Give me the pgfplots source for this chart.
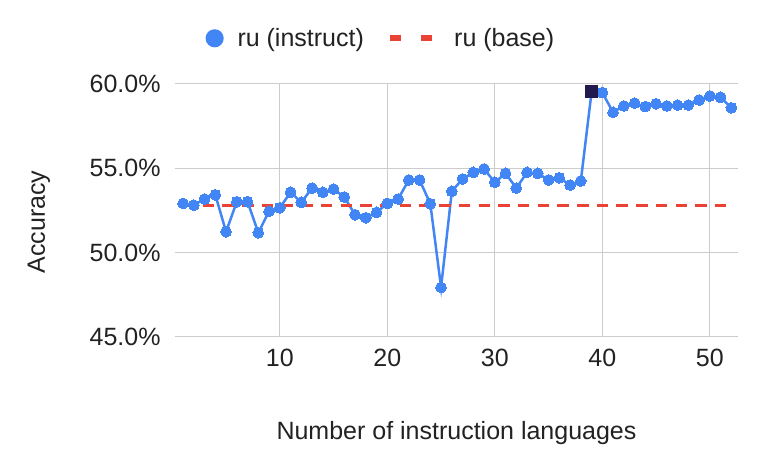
\documentclass[border=0pt]{standalone}
\usepackage{pgfplots}
\pgfplotsset{compat=1.18}
\usepackage{fontspec}
\setmainfont{Liberation Sans}
\definecolor{gblue}{HTML}{4285F4}
\definecolor{gred}{HTML}{EA4335}
\definecolor{gdark}{HTML}{211A4F}
\definecolor{ggrid}{HTML}{CCCCCC}
\definecolor{gtext}{HTML}{222222}
\begin{document}
\begin{tikzpicture}
\begin{axis}[
  name=ax,
  scale only axis,
  width=563pt, height=253pt,
  xmin=0.25, xmax=52.62,
  ymin=45, ymax=60,
  xtick={10,20,30,40,50},
  xticklabels={10,20,30,40,50},
  ytick={45,50,55,60},
  yticklabels={45.0\%,50.0\%,55.0\%,60.0\%},
  /pgf/number format/assume math mode=true,
  grid=major,
  grid style={ggrid, line width=1pt},
  axis line style={draw=none},
  major tick length=0pt,
  font=\fontsize{25}{30}\selectfont,
  every tick label/.append style={text=gtext},
  xticklabel style={anchor=center, inner sep=0pt, yshift=-21pt},
  yticklabel style={anchor=east, inner sep=0pt, xshift=-14.3pt},
  xlabel={Number of instruction languages},
  ylabel={Accuracy},
  every axis x label/.style={at={(axis description cs:0.5,0)}, anchor=center, yshift=-96pt, text=gtext, font=\fontsize{25}{30}\selectfont},
  every axis y label/.style={at={(axis description cs:-0.2416,0.4545)}, anchor=center, rotate=90, text=gtext, font=\fontsize{25}{30}\selectfont},
  legend style={at={(axis description cs:0.364,1.1806)}, anchor=center, draw=none, fill=none,
    legend columns=2, font=\fontsize{25}{30}\selectfont, text=gtext,
    nodes={inner sep=0pt},
    /tikz/every odd column/.append style={column sep=12pt},
    /tikz/every even column/.append style={column sep=23pt}, inner sep=0pt},
  clip=false,
]
\addplot[gblue, line width=2.5pt, mark=*, mark size=5.4pt, mark options={solid, fill=gblue, draw=gblue, line width=0pt},
  legend image code/.code={\fill[gblue] (0pt,0pt) circle (7.8pt); \path (9.6pt,0pt);}]
coordinates {
(1,52.92) (2,52.82) (3,53.18) (4,53.43) (5,51.24) (6,53.02) (7,53.02) (8,51.18)
(9,52.45) (10,52.66) (11,53.58) (12,52.98) (13,53.83) (14,53.58) (15,53.77) (16,53.30)
(17,52.25) (18,52.07) (19,52.39) (20,52.92) (21,53.18) (22,54.31) (23,54.31) (24,52.90)
(25,47.94) (26,53.64) (27,54.37) (28,54.76) (29,54.96) (30,54.17) (31,54.70) (32,53.83)
(33,54.76) (34,54.70) (35,54.31) (36,54.44) (37,54.01) (38,54.25) (39,59.53) (40,59.49)
(41,58.32) (42,58.70) (43,58.87) (44,58.66) (45,58.83) (46,58.70) (47,58.75) (48,58.75)
(49,59.05) (50,59.29) (51,59.21) (52,58.59)
};
\addlegendentry{ru (instruct)}
\addplot[gred, line width=3pt, dash pattern=on 11.5pt off 8.2pt,
  legend image code/.code={\draw[gred, line width=6pt] (0pt,0pt) -- (18.3pt,0pt); \draw[gred, line width=6pt] (31pt,0pt) -- (49.3pt,0pt);}]
coordinates {(1,52.78) (52,52.78)};
\addlegendentry{ru (base)}
\addplot[only marks, mark=square*, mark size=6pt, mark options={fill=gdark, draw=gdark, line width=0pt}, forget plot]
coordinates {(39,59.53)};
\end{axis}
\pgfresetboundingbox
\path[use as bounding box] ([xshift=-175pt,yshift=-133pt]ax.south west) rectangle ([xshift=23pt,yshift=84pt]ax.north east);
\end{tikzpicture}
\end{document}
